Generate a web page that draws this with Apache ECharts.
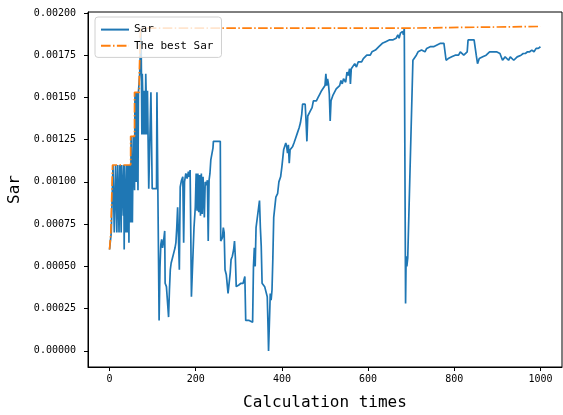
<!DOCTYPE html>
<html>
<head>
<meta charset="utf-8">
<style>
  html, body { margin: 0; padding: 0; background: #fff; }
  #chart { width: 563px; height: 415px; }
</style>
<script src="https://cdn.jsdelivr.net/npm/echarts@6/dist/echarts.min.js"></script>
</head>
<body>
<div id="chart"></div>
<script>
// values (calculation step, Sar)
const sarX = [0, 3, 4, 7, 8, 10, 11, 13, 14, 16, 17, 19, 21, 22, 24, 26, 27, 28, 31, 32, 33, 34, 35, 37, 38, 40, 41, 43, 44, 45, 46, 48,
  49, 50, 52, 53, 55, 57, 58, 59, 61, 62, 63, 65, 66, 67, 69, 70, 72, 73, 74, 75, 76, 78, 79, 80, 82, 83, 84, 86, 87, 88, 90,
  91, 95, 96, 98, 99, 109, 110, 114, 115, 117, 119, 121, 123, 125, 128, 129, 132, 134, 137, 139, 141, 143, 146, 149, 152, 154,
  156, 158, 160, 162, 164, 167, 170, 172, 174, 177, 180, 183, 185, 187, 188, 190, 193, 196, 199, 201, 203, 205, 207, 209, 211,
  213, 215, 217, 220, 222, 225, 227, 229, 231, 233, 235, 238, 240, 241, 245, 250, 254, 257, 258, 262, 264, 266, 268, 271, 275,
  278, 280, 282, 285, 288, 290, 292, 294, 300, 305, 310, 314, 316, 324, 332, 334, 336, 338, 340, 344, 346, 348, 350, 352, 354,
  356, 360, 363, 366, 368, 369, 372, 373, 375, 377, 379, 381, 384, 386, 390, 393, 397, 400, 402, 404, 407, 409, 411, 413, 415,
  417, 419, 421, 425, 428, 432, 436, 440, 443, 446, 448, 454, 456, 458, 460, 463, 466, 470, 473, 476, 480, 484, 488, 492, 496,
  500, 502, 504, 506, 508, 510, 512, 514, 518, 522, 526, 530, 534, 537, 540, 543, 546, 548, 551, 554, 557, 559, 561, 565, 569,
  573, 577, 581, 585, 589, 593, 597, 601, 605, 609, 613, 617, 621, 625, 629, 633, 637, 641, 645, 649, 653, 657, 661, 665, 669,
  672, 675, 678, 680, 682, 684, 686, 687, 688, 689, 690, 692, 704, 708, 712, 716, 720, 724, 728, 732, 736, 740, 744, 748, 752,
  756, 760, 764, 768, 772, 776, 779, 781, 783, 786, 790, 794, 798, 802, 806, 810, 814, 818, 822, 826, 830, 832, 836, 840, 846,
  849, 851, 854, 858, 862, 866, 870, 874, 878, 882, 886, 890, 894, 898, 902, 906, 910, 912, 915, 918, 922, 926, 930, 934, 938,
  942, 946, 950, 955, 960, 965, 970, 975, 980, 985, 990, 995, 1000];
const sarY = [0.0006, 0.0006, 0.0007, 0.0007, 0.0011, 0.0011, 0.0007, 0.0007, 0.0011, 0.0011, 0.0007, 0.0011, 0.0011, 0.0007, 0.0011,
  0.0011, 0.0007, 0.0011, 0.0011, 0.0008, 0.0011, 0.0006, 0.0011, 0.0011, 0.0007, 0.0011, 0.0007, 0.0007, 0.0011, 0.00064, 0.0011,
  0.0011, 0.00076, 0.00127, 0.00127, 0.00076, 0.00127, 0.00127, 0.00095, 0.00153, 0.00153, 0.0010, 0.00153, 0.00153, 0.00095,
  0.00153, 0.00153, 0.00164, 0.00164, 0.00191, 0.00164, 0.00128, 0.00164, 0.00164, 0.00128, 0.00154, 0.00154, 0.00128, 0.00164,
  0.00164, 0.00128, 0.00154, 0.00154, 0.00096, 0.00096, 0.00153, 0.00153, 0.00096, 0.00096, 0.00153, 0.00153, 0.00018, 0.00049,
  0.00063, 0.00066, 0.00061, 0.00064, 0.00071, 0.00040, 0.00038, 0.00037, 0.00020, 0.00036, 0.00048, 0.00052, 0.00055, 0.00058,
  0.00061, 0.00064, 0.00073, 0.00085, 0.00086, 0.00048, 0.00097, 0.00101, 0.00103, 0.00064, 0.00100, 0.00105, 0.00102, 0.00106,
  0.00103, 0.00107, 0.00083, 0.00032, 0.00033, 0.00073, 0.00085, 0.00105, 0.00083, 0.00105, 0.00082, 0.00104, 0.00080, 0.00105,
  0.00081, 0.00103, 0.00079, 0.00100, 0.00098, 0.00101, 0.00065, 0.00101, 0.00105, 0.00113, 0.00113, 0.00120, 0.00124, 0.00123,
  0.00124, 0.00123, 0.00124, 0.00065, 0.00067, 0.00073, 0.00070, 0.00048, 0.00045, 0.00034, 0.00035, 0.00046, 0.00054, 0.00056,
  0.00060, 0.00065, 0.00055, 0.00038, 0.00039, 0.00040, 0.00040, 0.00044, 0.00018, 0.00018, 0.00017, 0.00050, 0.00061, 0.00050,
  0.00073, 0.00073, 0.00085, 0.00089, 0.00073, 0.00062, 0.00040, 0.00039, 0.00038, 0.00037, 0.00032, 0.00012, 0.00000, 0.00000,
  0.00034, 0.00030, 0.00036, 0.00055, 0.00079, 0.00080, 0.00091, 0.00093, 0.00100, 0.00103, 0.00109, 0.00110, 0.00119, 0.00120,
  0.00123, 0.00121, 0.00117, 0.00122, 0.00111, 0.00119, 0.00118, 0.00121, 0.00123, 0.00126, 0.00129, 0.00132, 0.00135, 0.00140,
  0.00146, 0.00146, 0.00136, 0.00124, 0.00139, 0.00140, 0.00142, 0.00144, 0.00148, 0.00149, 0.00148, 0.00150, 0.00152, 0.00154,
  0.00155, 0.00157, 0.00164, 0.00157, 0.00161, 0.00158, 0.00152, 0.00136, 0.00148, 0.00151, 0.00152, 0.00155, 0.00156, 0.00157,
  0.00160, 0.00158, 0.00161, 0.00162, 0.00159, 0.00165, 0.00163, 0.00167, 0.00158, 0.00167, 0.00168, 0.00170, 0.00168, 0.00171,
  0.00172, 0.00171, 0.00173, 0.00174, 0.00175, 0.00176, 0.00175, 0.00177, 0.00177, 0.00178, 0.00179, 0.00180, 0.00181, 0.00182,
  0.00181, 0.00183, 0.00183, 0.00184, 0.00183, 0.00184, 0.00185, 0.00185, 0.00187, 0.00185, 0.00188, 0.00187, 0.00189, 0.00187,
  0.00191, 0.00192, 0.00028, 0.00050, 0.00056, 0.00050, 0.00055, 0.00172, 0.00172, 0.00175, 0.00177, 0.00177, 0.00178, 0.00178,
  0.00177, 0.00179, 0.00178, 0.00180, 0.00179, 0.00180, 0.00180, 0.00181, 0.00181, 0.00182, 0.00183, 0.00182, 0.00181, 0.00172,
  0.00171, 0.00173, 0.00173, 0.00174, 0.00173, 0.00175, 0.00176, 0.00175, 0.00177, 0.00178, 0.00175, 0.00175, 0.00177, 0.00184,
  0.00185, 0.00184, 0.00184, 0.00184, 0.00175, 0.00170, 0.00173, 0.00174, 0.00174, 0.00175, 0.00175, 0.00176, 0.00177, 0.00176,
  0.00177, 0.00178, 0.00177, 0.00177, 0.00176, 0.00177, 0.00172, 0.00171, 0.00174, 0.00173, 0.00172, 0.00174, 0.00173, 0.00172,
  0.00173, 0.00174, 0.00174, 0.00175, 0.00176, 0.00176, 0.00177, 0.00177, 0.00178, 0.00177, 0.00179, 0.00179, 0.00180];

// running best, drawn as steps
const bestX = [0, 3, 3, 7, 7, 49, 49, 58, 58, 69, 69, 72, 72, 686, 686, 1000];
const bestY = [0.0006, 0.0006, 0.0007, 0.0007, 0.0011, 0.0011, 0.00127, 0.00127, 0.00153, 0.00153, 0.00164, 0.00164,
  0.00191, 0.00191, 0.00192, 0.00192];

const xTicks = [0, 200, 400, 600, 800, 1000];
const yTicks = [0, 0.00025, 0.0005, 0.00075, 0.001, 0.00125, 0.0015, 0.00175, 0.002];

const mono = 'DejaVu Sans Mono';
const zip = (xs, ys) => xs.map((x, i) => [x, ys[i]]);

let chart = echarts.init(document.getElementById('chart'), null, { renderer: 'canvas' });
chart.setOption({
  animation: false,
  grid: {
    left: 88, right: 1, top: 12, bottom: 48,
    outerBoundsMode: 'none',
    show: true, borderColor: '#000', borderWidth: 1
  },
  legend: {
    orient: 'vertical',
    left: 95, top: 17,
    itemWidth: 28, itemHeight: 14, itemGap: 5,
    padding: [7, 8, 6, 5],
    backgroundColor: 'rgba(255,255,255,0.8)',
    borderColor: '#d0d0d0', borderWidth: 1, borderRadius: 3,
    itemStyle: { opacity: 0 },
    textStyle: { fontFamily: mono, fontSize: 11, color: '#000' },
    data: ['Sar', 'The best Sar']
  },
  xAxis: {
    type: 'value',
    min: -50, max: 1050,
    name: 'Calculation times',
    nameLocation: 'middle',
    nameGap: 28,
    nameTextStyle: { fontFamily: mono, fontSize: 16, color: '#000' },
    axisLine: { onZero: false, lineStyle: { color: '#000' } },
    axisTick: { show: true, length: 4, customValues: xTicks, lineStyle: { color: '#000' } },
    axisLabel: {
      customValues: xTicks, margin: 7, fontFamily: mono, fontSize: 10, color: '#000',
      formatter: v => String(v)
    },
    splitLine: { show: false }
  },
  yAxis: {
    type: 'value',
    min: -0.0000955, max: 0.0020055,
    name: 'Sar',
    nameLocation: 'middle',
    nameGap: 63,
    nameTextStyle: { fontFamily: mono, fontSize: 16, color: '#000' },
    axisLine: { show: true, onZero: false, lineStyle: { color: '#000' } },
    axisTick: { show: true, length: 4, customValues: yTicks, lineStyle: { color: '#000' } },
    axisLabel: {
      customValues: yTicks, margin: 12, fontFamily: mono, fontSize: 10, color: '#000',
      formatter: v => v.toFixed(5)
    },
    splitLine: { show: false }
  },
  series: [
    {
      name: 'Sar',
      type: 'line',
      data: zip(sarX, sarY),
      symbol: 'none',
      color: '#1f77b4',
      lineStyle: { width: 1.7, color: '#1f77b4' }
    },
    {
      name: 'The best Sar',
      type: 'line',
      data: zip(bestX, bestY),
      symbol: 'none',
      color: '#ff7f0e',
      lineStyle: { width: 1.7, color: '#ff7f0e', type: [9.6, 2.4, 1.5, 2.4] }
    }
  ]
});
window.addEventListener('resize', () => chart.resize());
</script>
</body>
</html>
